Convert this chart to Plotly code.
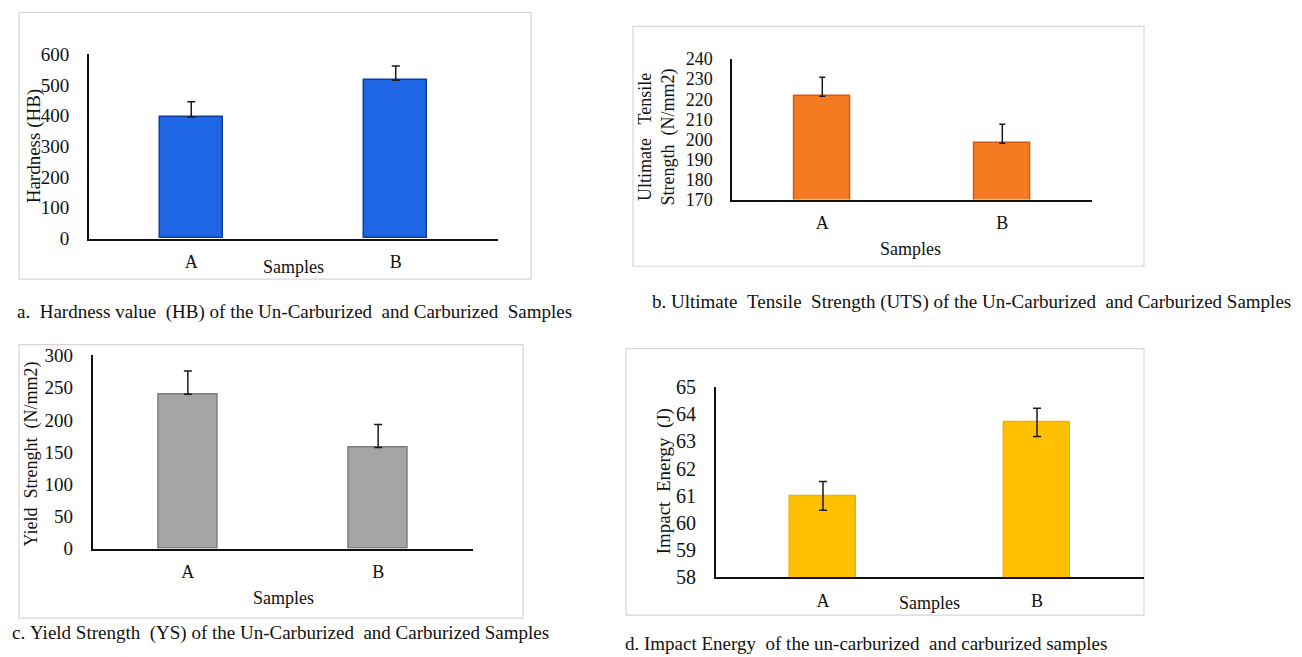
import plotly.graph_objects as go

W, H = 1302, 657

# ---------------- data ----------------
samples = ["A", "B"]
hardness = [395, 515]
hardness_err = [50, 46]
uts = [221.5, 198.0]
uts_err = [9.5, 9.5]
yield_strength = [240, 157]
yield_err = [36, 36]
impact = [61.0, 63.7]
impact_err = [0.53, 0.52]

FONT = "Liberation Serif, Times New Roman, serif"


def px(x):
    return x / W


def py(y):
    # target pixel row -> paper fraction (with a small correction for the capture)
    yf = max((y - 6.5) / 0.975, 1.0)
    return 1 - yf / H


fig = go.Figure()

panels = [
    dict(vals=hardness, err=hardness_err, minus=None, fill="#1f66e5", line="#0f3f9e",
         xd=(89, 498), yd=(236, 50), yr=(0, 600), dt=100, cap=4, ax="", tf=19),
    dict(vals=uts, err=uts_err, minus=None, fill="#f57a22", line="#cf5a12",
         xd=(732.3, 1092.3), yd=(196.7, 55), yr=(170, 240), dt=10, cap=3, ax="2", tf=18),
    dict(vals=yield_strength, err=yield_err, minus=None, fill="#a5a5a5", line="#7d7d7d",
         xd=(92.7, 473.3), yd=(549, 354), yr=(0, 300), dt=50, cap=4, ax="3", tf=19),
    dict(vals=impact, err=impact_err, minus=impact_err, fill="#ffc000", line="#f0b400",
         xd=(716, 1144), yd=(577.7, 386), yr=(58, 65), dt=1, cap=4, ax="4", tf=20),
]

layout_axes = {}
for p in panels:
    ax = p["ax"]
    err = dict(type="data", array=p["err"], visible=True, color="#1a1a1a",
               thickness=1.5, width=p["cap"])
    if p["minus"] is None:
        err["symmetric"] = False
        err["arrayminus"] = [0] * len(p["err"])
    else:
        err["symmetric"] = True
    fig.add_trace(go.Bar(
        x=samples, y=p["vals"], width=0.31,
        marker=dict(color=p["fill"], line=dict(color=p["line"], width=1.5)),
        error_y=err,
        xaxis="x" + ax, yaxis="y" + ax, showlegend=False,
    ))
    layout_axes["xaxis" + ax] = dict(
        domain=[px(p["xd"][0]), px(p["xd"][1])],
        anchor="y" + ax, type="category", range=[-0.5, 1.5],
        showline=True, linecolor="#111111", linewidth=2, ticks="",
        showgrid=False, zeroline=False, ticklabelstandoff=6,
        tickfont=dict(family=FONT, size=18, color="#111111"),
    )
    layout_axes["yaxis" + ax] = dict(
        domain=[py(p["yd"][0]), py(p["yd"][1])],
        anchor="x" + ax, range=list(p["yr"]), dtick=p["dt"], tick0=p["yr"][0],
        showline=True, linecolor="#111111", linewidth=1.8, ticks="",
        showgrid=False, zeroline=False, ticklabelstandoff=14,
        tickfont=dict(family=FONT, size=p["tf"], color="#111111"),
    )

# frames around each chart
boxes = [(19, 8, 531, 277), (633, 22, 1144, 264), (19, 343, 523, 619), (626, 347, 1144, 616)]
shapes = []
for (x0, y0, x1, y1) in boxes:
    shapes.append(dict(type="rect", xref="paper", yref="paper",
                       x0=px(x0), x1=px(x1), y0=py(y1), y1=py(y0),
                       line=dict(color="#d6d6d6", width=1.2), layer="below"))

ann = []


def text(x, y, t, size=18, angle=0, xanchor="center"):
    ann.append(dict(x=px(x), y=py(y), xref="paper", yref="paper", text=t,
                    showarrow=False, textangle=angle, xanchor=xanchor, yanchor="middle",
                    font=dict(family=FONT, size=size, color="#111111")))


NB = "\u00a0"
# axis titles
text(34, 143, "Hardness" + NB + "(HB)", size=19, angle=-90)
text(657, 134, "Ultimate" + NB * 3 + "Tensile<br>Strength" + NB * 2 + "(N/mm2)", size=18, angle=-90)
text(32, 454, "Yield" + NB * 2 + "Strenght" + NB * 2 + "(N/mm2)", size=18, angle=-90)
text(664, 481, "Impact" + NB * 2 + "Energy" + NB * 2 + "(J)", size=19, angle=-90)

# "Samples" labels
text(293, 265, "Samples")
text(910, 247, "Samples")
text(283, 599, "Samples")
text(929, 604, "Samples")

# captions
text(15, 310, "a." + NB * 2 + "Hardness" + NB + "value" + NB * 2 + "(HB)" + NB + "of" + NB + "the" + NB +
     "Un-Carburized" + NB * 2 + "and" + NB + "Carburized" + NB * 2 + "Samples", size=19, xanchor="left")
text(650, 300, "b." + NB + "Ultimate" + NB * 2 + "Tensile" + NB * 2 + "Strength" + NB + "(UTS)" + NB +
     "of" + NB + "the" + NB + "Un-Carburized" + NB * 2 + "and" + NB + "Carburized" + NB + "Samples",
     size=19, xanchor="left")
text(10, 634, "c." + NB + "Yield" + NB + "Strength" + NB * 2 + "(YS)" + NB + "of" + NB + "the" + NB +
     "Un-Carburized" + NB * 2 + "and" + NB + "Carburized" + NB + "Samples", size=19, xanchor="left")
text(623, 645, "d." + NB + "Impact" + NB + "Energy" + NB * 2 + "of" + NB + "the" + NB + "un-carburized" +
     NB * 2 + "and" + NB + "carburized" + NB + "samples", size=19, xanchor="left")

fig.update_layout(
    width=W, height=H, autosize=False,
    margin=dict(l=0, r=0, t=0, b=0),
    paper_bgcolor="white", plot_bgcolor="rgba(0,0,0,0)",
    shapes=shapes, annotations=ann, bargap=0,
    **layout_axes,
)

fig.write_html("out.html", post_script="document.body.style.margin='0';",
               config={"displayModeBar": False})
